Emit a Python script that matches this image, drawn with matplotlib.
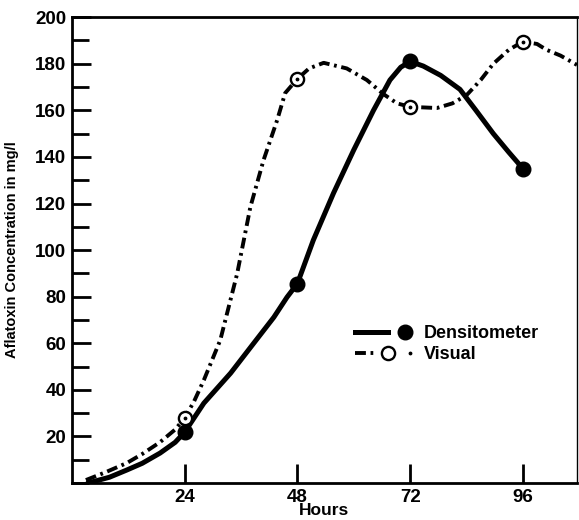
import matplotlib
matplotlib.use("Agg")
import matplotlib.pyplot as plt
import matplotlib.lines as mlines
from matplotlib.ticker import MultipleLocator, FixedLocator
from matplotlib.legend_handler import HandlerTuple

# measured points
hours = [24, 48, 72, 96]
dens = [21.8, 85.6, 181, 135]
visual = [27.9, 173.5, 161.5, 189.5]

# hand-drawn curves
dens_curve_x = [3.4, 8, 11.7, 15, 18.8, 22, 24, 28.1, 33.8, 38.7, 43, 45.8,
                48, 51.4, 55.7, 60, 64.2, 67.7, 70, 72, 74.8, 78.5, 82.6, 86,
                89.7, 93, 96]
dens_curve_y = [0, 2.5, 5.6, 8.5, 12.9, 17.5, 21.8, 34.3, 47.2, 60, 71.2, 79.8,
                85.6, 104.3, 124.5, 143, 160, 173, 178.5, 181, 179, 175, 169,
                160, 150, 142, 135]
vis_curve_x = [3, 7, 11.7, 15, 18.8, 22, 24, 26, 28.1, 31.6, 35.2, 38, 40.8,
               43.7, 45.4, 48, 50.5, 53.6, 58.5, 62.8, 66.3, 69.2, 72, 77.7,
               81, 84, 87, 89.7, 93, 96, 99, 101, 104, 107.5]
vis_curve_y = [1.3, 4.5, 8.6, 12.5, 17.6, 23, 27.9, 35, 44.2, 61.4, 90, 118.5,
               138.6, 155.8, 167.4, 173.5, 178, 180.4, 178, 173, 167, 163,
               161.5, 161, 163, 166.5, 173, 180, 186, 189.5, 188.5, 186, 183.5,
               179.5]

font = ["Liberation Sans", "DejaVu Sans"]
plt.rcParams["font.family"] = font
plt.rcParams["font.weight"] = "bold"

fig = plt.figure(figsize=(5.79, 5.2), dpi=100)
ax = fig.add_axes([0.124, 0.071, 0.8725, 0.896])

dash = (0, (2.8, 1.2, 0.7, 1.2))
ax.plot(dens_curve_x, dens_curve_y, color="black", lw=3.6,
        solid_capstyle="round", solid_joinstyle="round", zorder=3)
ax.plot(vis_curve_x, vis_curve_y, color="black", lw=2.8, linestyle=dash,
        zorder=2)

d_mark, = ax.plot(hours, dens, "o", color="black", ms=10.5, zorder=5)
v_mark, = ax.plot(hours, visual, "o", mfc="white", mec="black", ms=9.5,
                  mew=1.7, zorder=5)
v_dot, = ax.plot(hours, visual, ".", color="black", ms=3.5, zorder=6)

ax.set_xlim(0, 107.5)
ax.set_ylim(0, 200)
ax.xaxis.set_major_locator(FixedLocator(hours))
ax.yaxis.set_minor_locator(MultipleLocator(10))
ax.set_yticks(range(20, 201, 20))

ax.tick_params(axis="both", which="both", direction="in", width=2,
               labelsize=13.5)
ax.tick_params(axis="y", which="major", length=14, pad=4)
ax.tick_params(axis="y", which="minor", length=12)
ax.tick_params(axis="x", which="major", length=14, pad=4)

for s in ax.spines.values():
    s.set_linewidth(2)
ax.spines["right"].set_linewidth(1)

ax.set_xlabel("Hours", fontweight="bold", fontsize=12.5, labelpad=-2)
ax.set_ylabel("Aflatoxin Concentration in mg/l", fontweight="bold",
              fontsize=10.5)
ax.yaxis.set_label_coords(-0.105, 0.5)

d_line = mlines.Line2D([], [], color="black", lw=3.6)
v_line = mlines.Line2D([], [], color="black", lw=2.8, linestyle=dash)
ax.legend([(d_line, d_mark), (v_line, v_mark, v_dot)],
          ["Densitometer", "Visual"],
          handler_map={tuple: HandlerTuple(ndivide=None, pad=0)},
          loc="center left", bbox_to_anchor=(0.56, 0.298),
          frameon=False, handlelength=3.7, handletextpad=0.15,
          borderpad=0, borderaxespad=0, labelspacing=0.25,
          prop={"weight": "bold", "size": 13})

fig.savefig("out.png", dpi=100)
